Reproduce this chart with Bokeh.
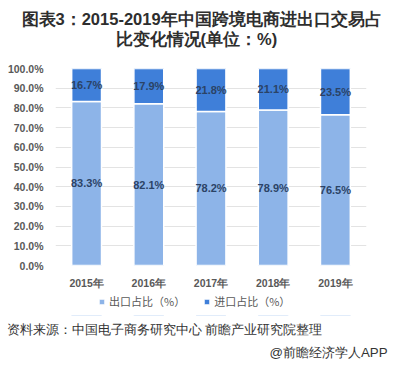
from bokeh.plotting import figure
from bokeh.models import (ColumnDataSource, FixedTicker, NumeralTickFormatter, Title,
                          Legend, LegendItem, LabelSet, Range1d)
from bokeh.layouts import column
from bokeh.core.properties import value
from bokeh.embed import file_html
from bokeh.resources import INLINE

years = ["2015年", "2016年", "2017年", "2018年", "2019年"]
export_share = [83.3, 82.1, 78.2, 78.9, 76.5]
import_share = [16.7, 17.9, 21.8, 21.1, 23.5]
y_ticks = [0, 10, 20, 30, 40, 50, 60, 70, 80, 90, 100]
series_names = ["出口占比（%）", "进口占比（%）"]

CJK = "Noto Sans CJK SC"
LAT = "Liberation Sans"
LIGHT = "#8DB4E8"
DARK = "#3F7FD9"

src = ColumnDataSource(dict(
    year=years,
    exp=[v / 100 for v in export_share],
    imp=[v / 100 for v in import_share],
    exp_mid=[v / 200 for v in export_share],
    imp_mid=[(e + i / 2) / 100 for e, i in zip(export_share, import_share)],
    exp_lab=["%.1f%%" % v for v in export_share],
    imp_lab=["%.1f%%" % v for v in import_share],
))

# ---------------- main chart ----------------
p = figure(x_range=years, y_range=Range1d(0, 1), width=389, height=291,
           output_backend="svg", toolbar_location=None,
           min_border_left=55, min_border_right=23, min_border_top=68, min_border_bottom=25)
p.outline_line_color = None

r = p.vbar_stack(["exp", "imp"], x="year", width=0.48, source=src,
                 color=[LIGHT, DARK], line_color="white", line_width=1.5)

for col, lab in (("exp_mid", "exp_lab"), ("imp_mid", "imp_lab")):
    p.add_layout(LabelSet(x="year", y=col, text=lab, source=src, text_align="center",
                          text_baseline="middle", text_font=value(LAT), text_font_size="11px",
                          text_font_style="bold", text_color="#2B4366"))

p.yaxis.ticker = FixedTicker(ticks=[t / 100 for t in y_ticks])
p.yaxis.formatter = NumeralTickFormatter(format="0.0%")
for ax in (p.xaxis, p.yaxis):
    ax.axis_line_color = None
    ax.major_tick_line_color = None
    ax.minor_tick_line_color = None
    ax.major_tick_out = 0
    ax.major_tick_in = 0
    ax.minor_tick_out = 0
    ax.major_label_text_font = LAT
    ax.major_label_text_font_size = "10.5px"
    ax.major_label_text_font_style = "bold"
    ax.major_label_text_color = "#595959"
p.yaxis.major_label_standoff = 12
p.xaxis.major_label_standoff = 11
p.xgrid.grid_line_color = None
p.ygrid.grid_line_color = "#E3E3E3"

p.add_layout(Title(text=" ", text_font=LAT, text_font_size="10px", standoff=8), "above")
p.add_layout(Title(text="比变化情况(单位：%)", align="left", text_font=LAT,
                   text_font_size="16.5px", text_font_style="bold", text_color="#2E2E2E",
                   offset=60, standoff=0), "above")
p.add_layout(Title(text="图表3：2015-2019年中国跨境电商进出口交易占", align="left",
                   text_font=LAT, text_font_size="16.5px", text_font_style="bold",
                   text_color="#2E2E2E", offset=-34, standoff=0), "above")

# ---------------- legend + source strip ----------------
q = figure(x_range=years, y_range=Range1d(10, 20), width=389, height=70,
           output_backend="svg", toolbar_location=None,
           x_axis_location=None, y_axis_location=None,
           min_border_left=55, min_border_right=23, min_border_top=0, min_border_bottom=46)
q.outline_line_color = None
q.xgrid.grid_line_color = None
q.ygrid.grid_line_color = None
rq = q.vbar_stack(["exp", "imp"], x="year", width=0.48, source=src,
                  color=[LIGHT, DARK], line_color="white", line_width=1)

legend = Legend(items=[LegendItem(label=series_names[0], renderers=[rq[0]]),
                       LegendItem(label=series_names[1], renderers=[rq[1]])],
                orientation="horizontal", location=(43, 6),
                label_text_font=CJK, label_text_font_size="11px",
                label_text_color="#595959", border_line_color=None,
                background_fill_alpha=0,
                glyph_width=7, glyph_height=7, spacing=18, padding=0,
                margin=0, label_standoff=4, label_height=14)
q.add_layout(legend, "center")

q.add_layout(Title(text="资料来源：中国电子商务研究中心 前瞻产业研究院整理", align="left",
                   text_font=LAT, text_font_size="13.3px", text_font_style="normal",
                   text_color="#333333", offset=-49, standoff=9), "below")
q.add_layout(Title(text="@前瞻经济学人APP", align="right",
                   text_font=LAT, text_font_size="13.3px", text_font_style="normal",
                   text_color="#333333", offset=-21, standoff=3), "below")

layout = column(p, q)
open("out.html", "w").write(file_html(layout, INLINE))
